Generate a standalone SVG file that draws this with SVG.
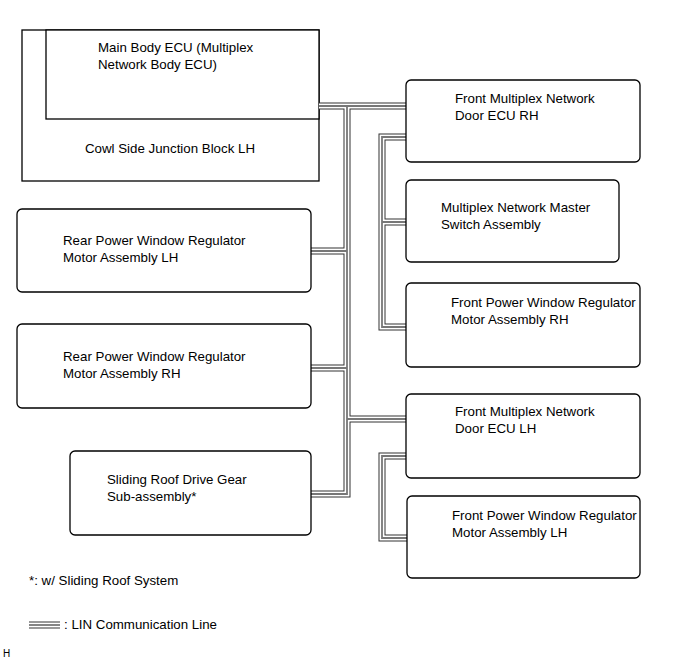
<svg xmlns="http://www.w3.org/2000/svg" xmlns:xlink="http://www.w3.org/1999/xlink" width="691" height="660" viewBox="0 0 691 660">
<style>
.box{fill:#fff;stroke:#000;stroke-width:1.3}
.t{font-family:"Liberation Sans",Arial,sans-serif;font-size:13.3px;fill:#000}
.w1{fill:none;stroke:#333;stroke-width:7}
.w2{fill:none;stroke:#fff;stroke-width:5}
.w3{fill:none;stroke:#777;stroke-width:1.8}
</style>
<defs>
<path id="c1" d="M319,106 H406"/>
<path id="c2" d="M347,106 V494 H311"/>
<path id="c3" d="M347,251 H311"/>
<path id="c4" d="M347,368 H311"/>
<path id="c5" d="M347,419 H406"/>
<path id="c6" d="M406,137 H382 V327 H406 M382,222 H406"/>
<path id="c7" d="M406,456 H382 V538 H407"/>
<path id="cl" d="M29,625 H60"/>
</defs>
<g id="cowl">
<rect class="box" x="22" y="30" width="297" height="151"/>
<text class="t" x="170" y="153" text-anchor="middle">Cowl Side Junction Block LH</text>
</g>
<g id="mainecu">
<rect class="box" x="46" y="30" width="273" height="89"/>
<text class="t" x="98" y="52">Main Body ECU (Multiplex</text>
<text class="t" x="98" y="69">Network Body ECU)</text>
</g>
<g id="connectors">
<use xlink:href="#c1" class="w1"/><use xlink:href="#c2" class="w1"/><use xlink:href="#c3" class="w1"/><use xlink:href="#c4" class="w1"/><use xlink:href="#c5" class="w1"/><use xlink:href="#c6" class="w1"/><use xlink:href="#c7" class="w1"/>
<use xlink:href="#c1" class="w2"/><use xlink:href="#c2" class="w2"/><use xlink:href="#c3" class="w2"/><use xlink:href="#c4" class="w2"/><use xlink:href="#c5" class="w2"/><use xlink:href="#c6" class="w2"/><use xlink:href="#c7" class="w2"/>
<use xlink:href="#c1" class="w3"/><use xlink:href="#c2" class="w3"/><use xlink:href="#c3" class="w3"/><use xlink:href="#c4" class="w3"/><use xlink:href="#c5" class="w3"/><use xlink:href="#c6" class="w3"/><use xlink:href="#c7" class="w3"/>
</g>
<g id="doorrh">
<rect class="box" x="406" y="80" width="234" height="82" rx="5"/>
<text class="t" x="455" y="103">Front Multiplex Network</text>
<text class="t" x="455" y="120">Door ECU RH</text>
</g>
<g id="master">
<rect class="box" x="406" y="180" width="213" height="82" rx="5"/>
<text class="t" x="441" y="212">Multiplex Network Master</text>
<text class="t" x="441" y="229">Switch Assembly</text>
</g>
<g id="fpwrh">
<rect class="box" x="406" y="283" width="234" height="84" rx="5"/>
<text class="t" x="451" y="307">Front Power Window Regulator</text>
<text class="t" x="451" y="324">Motor Assembly RH</text>
</g>
<g id="doorlh">
<rect class="box" x="406" y="394" width="234" height="84" rx="5"/>
<text class="t" x="455" y="416">Front Multiplex Network</text>
<text class="t" x="455" y="433">Door ECU LH</text>
</g>
<g id="fpwlh">
<rect class="box" x="407" y="496" width="233" height="82" rx="5"/>
<text class="t" x="452" y="520">Front Power Window Regulator</text>
<text class="t" x="452" y="537">Motor Assembly LH</text>
</g>
<g id="rpwlh">
<rect class="box" x="17" y="209" width="294" height="83" rx="5"/>
<text class="t" x="63" y="245">Rear Power Window Regulator</text>
<text class="t" x="63" y="262">Motor Assembly LH</text>
</g>
<g id="rpwrh">
<rect class="box" x="17" y="324" width="294" height="84" rx="5"/>
<text class="t" x="63" y="361">Rear Power Window Regulator</text>
<text class="t" x="63" y="378">Motor Assembly RH</text>
</g>
<g id="sroof">
<rect class="box" x="70" y="451" width="241" height="84" rx="5"/>
<text class="t" x="107" y="484">Sliding Roof Drive Gear</text>
<text class="t" x="107" y="501">Sub-assembly*</text>
</g>
<g id="legend">
<text class="t" x="29" y="585">*: w/ Sliding Roof System</text>
<use xlink:href="#cl" class="w1"/><use xlink:href="#cl" class="w2"/><use xlink:href="#cl" class="w3"/>
<text class="t" x="64" y="629">: LIN Communication Line</text>
<text class="t" x="3" y="657" style="font-size:10px">H</text>
</g>
</svg>
